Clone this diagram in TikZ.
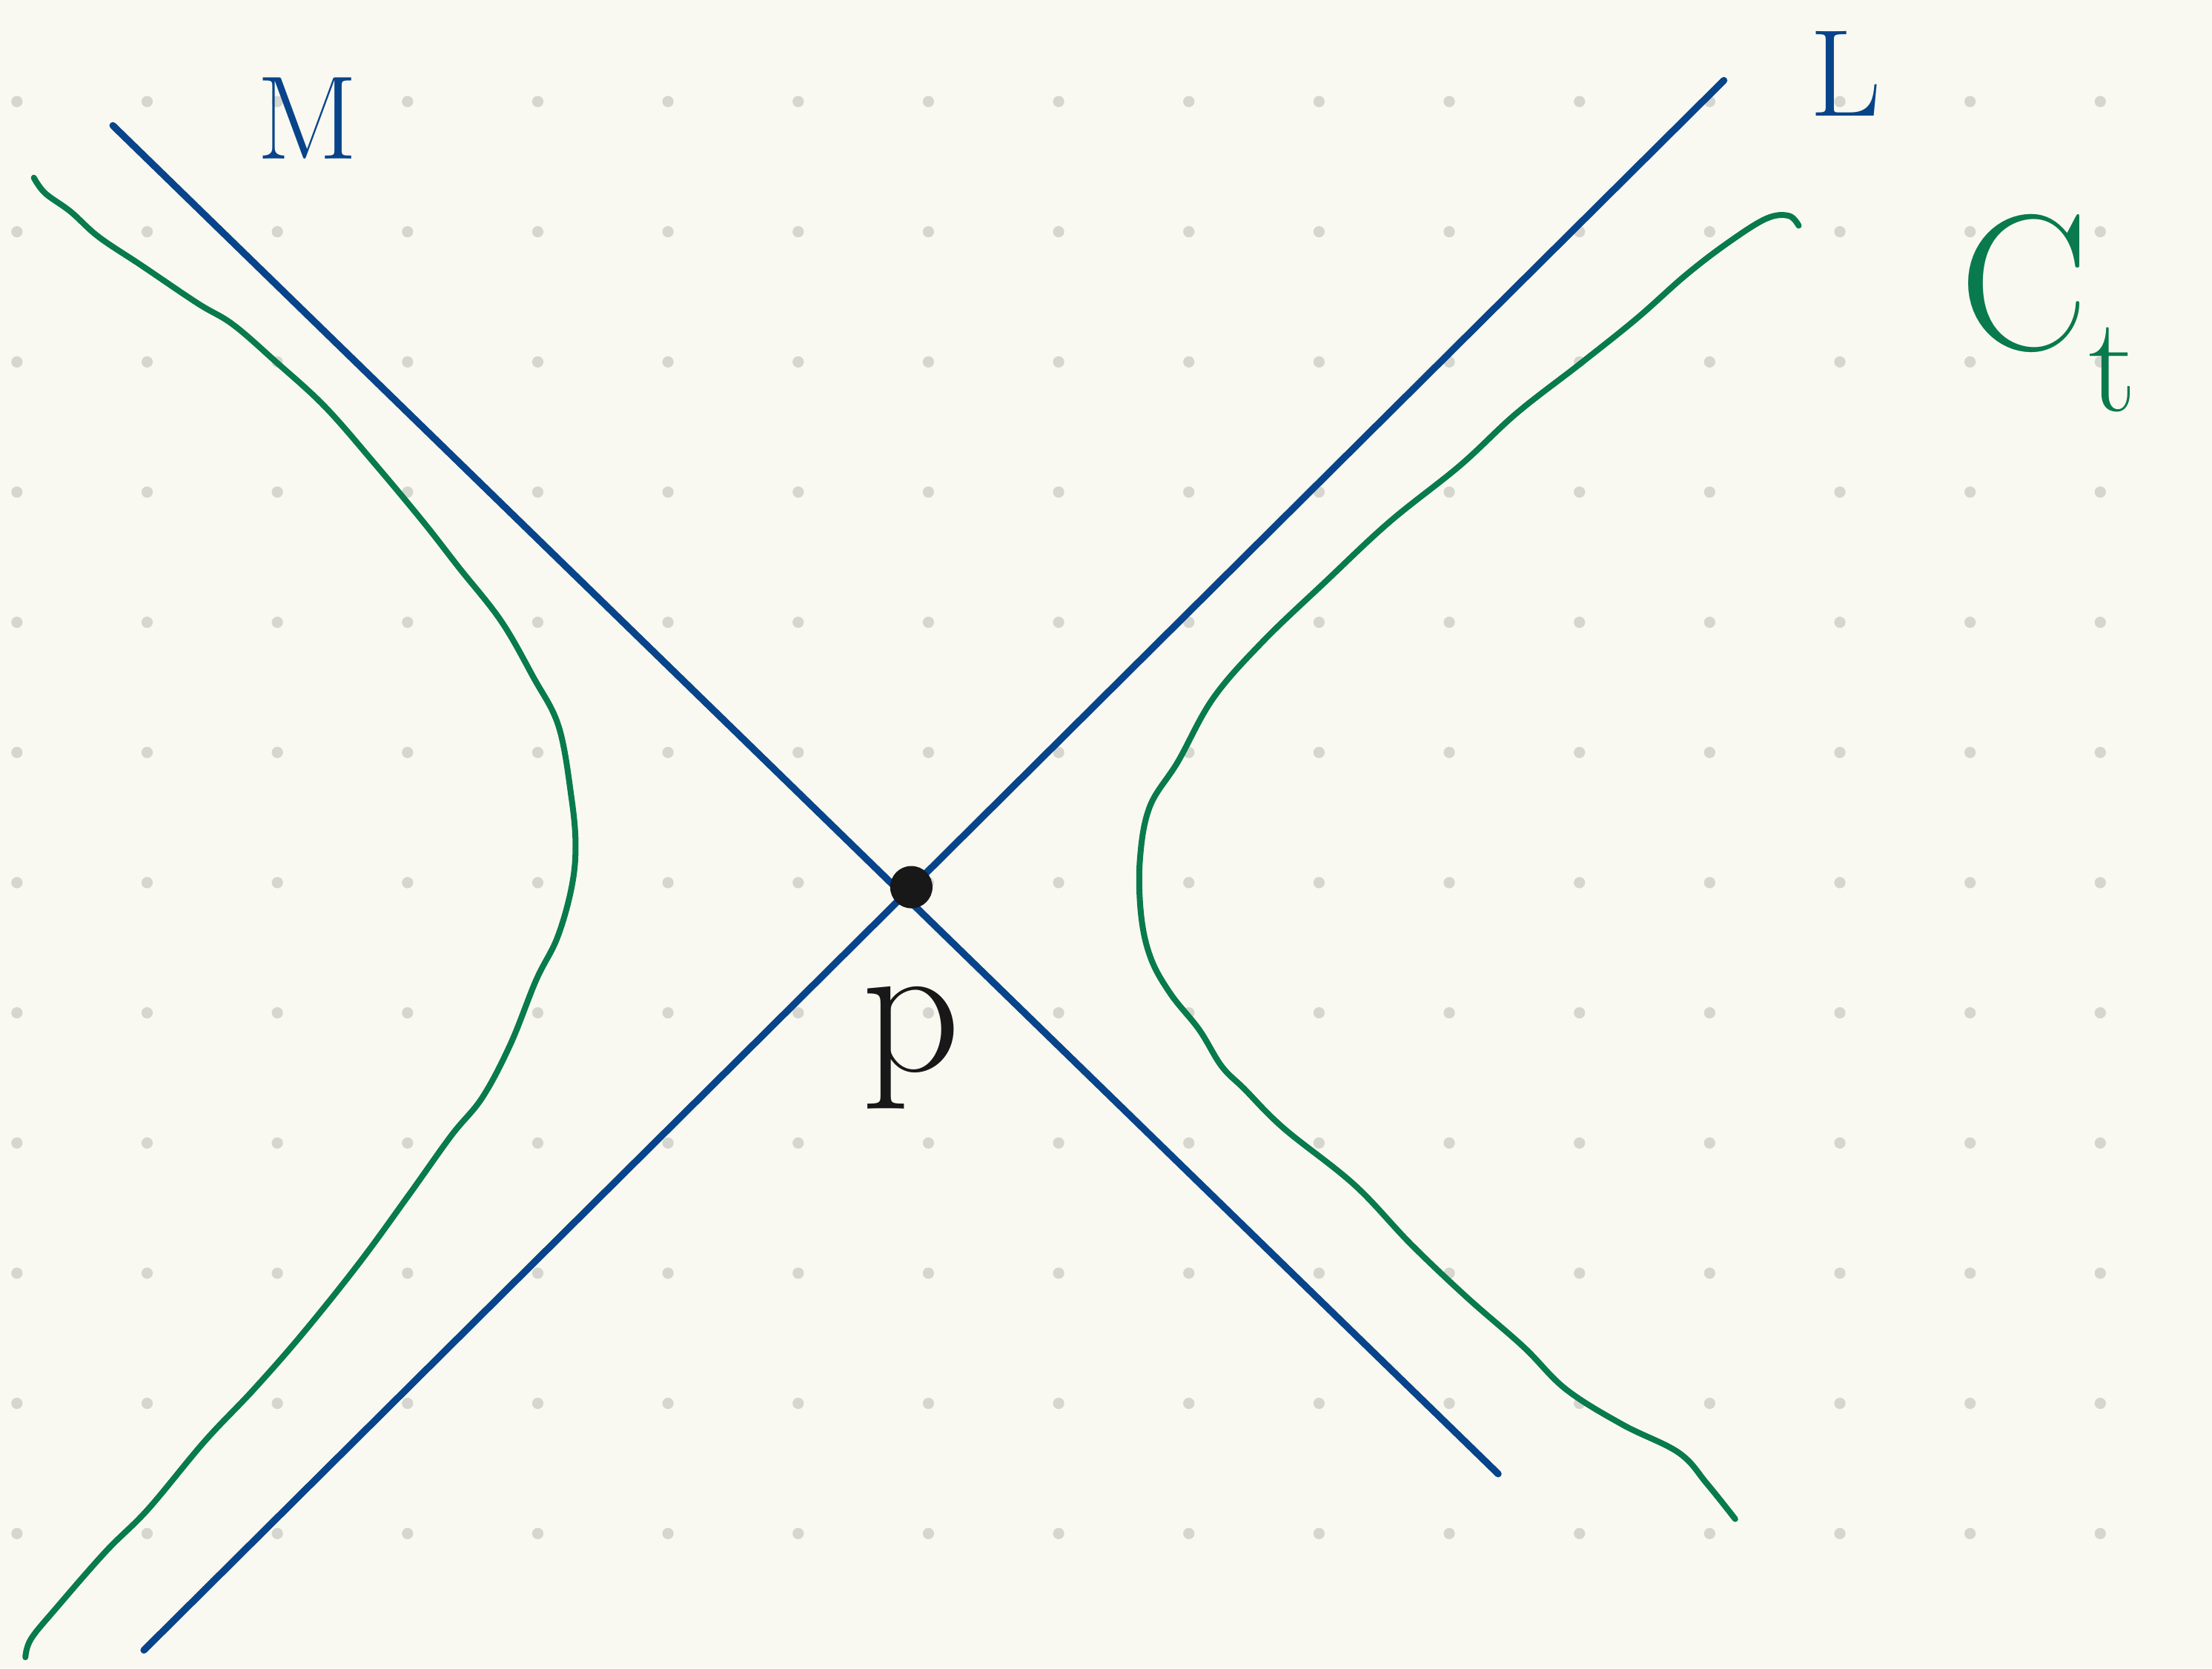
\documentclass[tikz,border=0pt]{standalone}
\usepackage{tikz}
\usetikzlibrary{positioning}
\definecolor{paper}{HTML}{F9F9F2}
\definecolor{griddot}{HTML}{D6D6D0}
\definecolor{inkblue}{HTML}{08448A}
\definecolor{inkgreen}{HTML}{087A4E}
\definecolor{inkblack}{HTML}{181818}

\begin{document}
\begin{tikzpicture}[
    x=0.02cm, y=-0.02cm,
    line/.style={draw=inkblue, line width=2.8pt, line cap=round},
    branch/.style={draw=inkgreen, line width=2.4pt, line cap=round, line join=round},
    lab/.style={inner sep=0pt}
  ]
    \fill[paper] (0,0) rectangle (1568,1183);
    \useasboundingbox (0,0) rectangle (1568,1183);
    % dotted paper
    \foreach \i in {0,...,16}
      \foreach \j in {0,...,11}
        \fill[griddot] (12+92.3*\i, 72+92.3*\j) circle (4);
    % the two lines through p
    \coordinate (m1) at (80,89);
    \coordinate (m2) at (1062,1045);
    \coordinate (l1) at (1222,57);
    \coordinate (l2) at (102,1170);
    \draw[line] (m1) -- (m2);
    \draw[line] (l1) -- (l2);
    % the curve C_t
    \draw[branch] plot[smooth, tension=0.6] coordinates {
      (24,126) (32,137) (50,150) (70,168) (100,188) (140,215) (165,230)
      (195,256) (230,288) (265,328) (300,370) (325,402) (355,440) (378,480)
      (396,515) (405,565) (408,600) (405,630) (395,665) (380,695) (362,740)
      (342,778) (320,805) (290,847) (255,895) (215,945) (180,985) (145,1022)
      (105,1070) (75,1100) (40,1140) (22,1162) (18,1175)};
    \draw[branch] plot[smooth, tension=0.6] coordinates {
      (1275,160) (1268,153) (1252,155) (1225,172) (1195,195) (1160,226)
      (1120,258) (1075,293) (1035,330) (985,370) (940,412) (895,455)
      (860,495) (835,540) (815,572) (808,610) (809,650) (816,680) (830,705)
      (850,730) (866,756) (882,772) (910,800) (960,840) (1000,882) (1040,920)
      (1080,955) (1110,985) (1150,1010) (1190,1030) (1210,1052) (1230,1077)};
    % point p
    \node[circle, fill=inkblack, minimum size=0.6cm, inner sep=0pt] (p) at (646,629) {};
    % labels
    \node[lab, text=inkblue, font=\fontsize{48}{52}\selectfont] (mlab) at (218,84) {M};
    \node[lab, text=inkblue, font=\fontsize{50}{54}\selectfont] (llab) at (1308,52) {L};
    \node[lab, text=inkgreen, font=\fontsize{78}{84}\selectfont] (clab) at (1452,222) {C\textsubscript{t}};
    \node[lab, text=inkblack, font=\fontsize{78}{84}\selectfont, below=1.1cm of p] (plab) {p};
  \end{tikzpicture}
\end{document}
